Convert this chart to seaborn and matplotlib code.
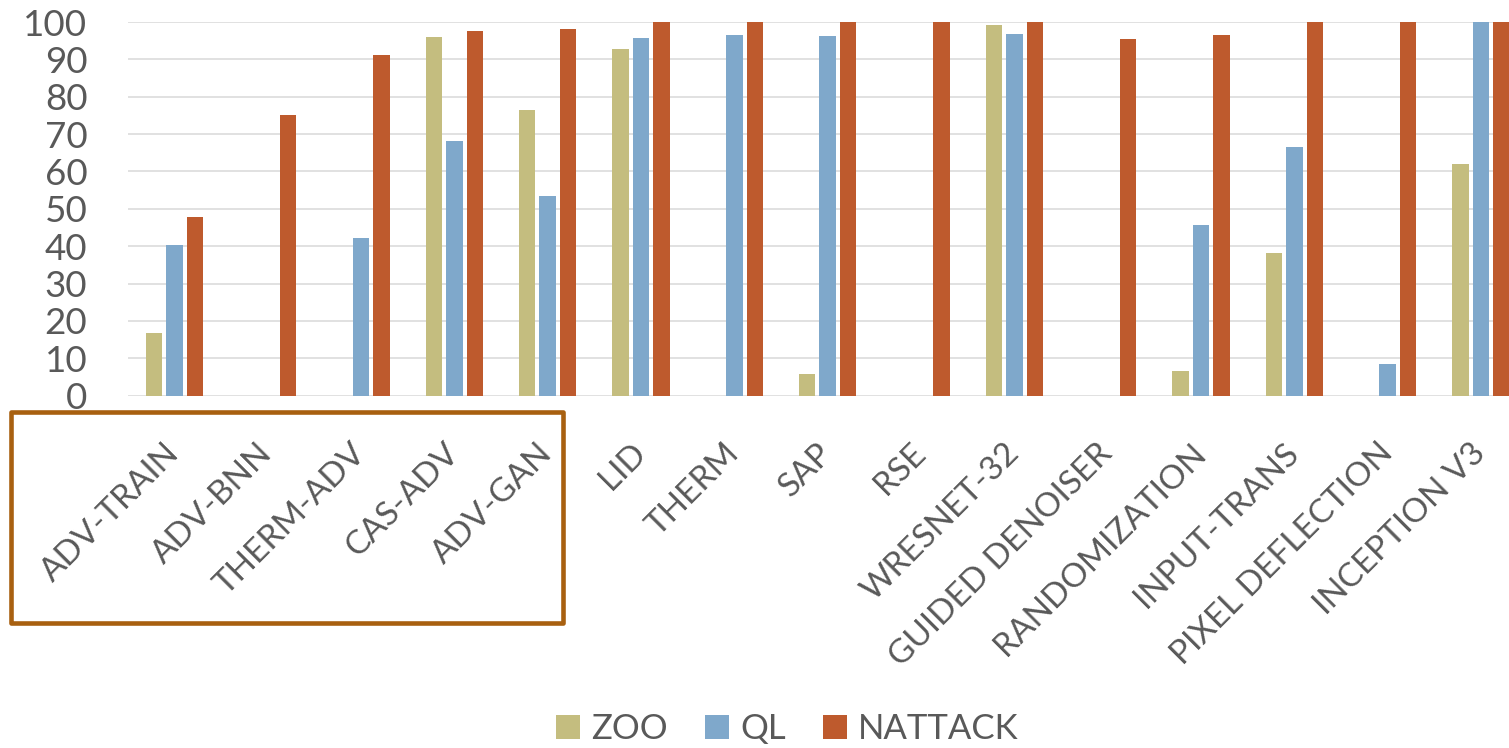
import matplotlib
matplotlib.use("Agg")
import matplotlib.pyplot as plt
from matplotlib.patches import Rectangle
import pandas as pd
import seaborn as sns

# Success rate (%) of each black-box attack against each defended model
defenses = [
    "ADV-TRAIN", "ADV-BNN", "THERM-ADV", "CAS-ADV", "ADV-GAN", "LID", "THERM",
    "SAP", "RSE", "WRESNET-32", "GUIDED DENOISER", "RANDOMIZATION",
    "INPUT-TRANS", "PIXEL DEFLECTION", "INCEPTION V3",
]
methods = ["ZOO", "QL", "NATTACK"]
zoo = [16.8, 0, 0, 96.0, 76.4, 92.9, 0, 5.8, 0, 99.2, 0, 6.6, 38.1, 0, 62.0]
ql = [40.2, 0, 42.1, 68.2, 53.5, 95.6, 96.5, 96.2, 0, 96.8, 0, 45.7, 66.5, 8.4, 100]
nattack = [47.8, 75.2, 91.2, 97.7, 98.2, 100, 100, 100, 100, 100, 95.5, 96.5, 100, 100, 100]
yticks = list(range(0, 101, 10))

colors = ["#C4BD7F", "#7FA8CB", "#BE5A2D"]
text_color = "#595959"

df = pd.DataFrame({
    "defense": defenses * 3,
    "method": [m for m in methods for _ in defenses],
    "rate": zoo + ql + nattack,
})

sns.set_theme(style="white")
plt.rcParams["font.family"] = ["Lato", "DejaVu Sans"]

W, H = 1509, 748
fig = plt.figure(figsize=(W / 100, H / 100), dpi=100)
ax = fig.add_axes([127.7 / W, 1 - 395.7 / H, 1400 / W, (395.7 - 22) / H])

sns.barplot(
    data=df, x="defense", y="rate", hue="method", order=defenses,
    hue_order=methods, palette=colors, width=0.66, gap=0.2,
    linewidth=0, saturation=1, ax=ax,
)

ax.set_xlim(-0.5, len(defenses) - 0.5)
ax.set_ylim(0, 100)
ax.set_yticks(yticks)
ax.set_yticklabels([str(v) for v in yticks], fontsize=26.5, color=text_color)
ax.set_xticks(range(len(defenses)))
ax.set_xticklabels(defenses, rotation=45, ha="right", va="center",
                   rotation_mode="anchor", fontsize=24, color=text_color)
ax.tick_params(axis="y", length=0, pad=29)
ax.tick_params(axis="x", length=0, pad=38)
ax.set_xlabel("")
ax.set_ylabel("")
for s in ax.spines.values():
    s.set_visible(False)
ax.yaxis.grid(True, color="#D9D9D9", linewidth=1.1)
ax.set_axisbelow(True)

sns.move_legend(
    ax, "center", bbox_to_anchor=(787.5 / W, 1 - 729 / H),
    bbox_transform=fig.transFigure, ncol=3, frameon=False, title=None,
    fontsize=25, handlelength=0.69, handleheight=0.68, handletextpad=0.32,
    columnspacing=1.07, borderpad=0,
)
for t in ax.get_legend().get_texts():
    t.set_color(text_color)

# Frame around the adversarially-trained group of labels
box = Rectangle((10.5 / W, 1 - 623 / H), (563 - 10.5) / W, (623 - 412) / H,
                transform=fig.transFigure, fill=False, edgecolor="#A86010",
                linewidth=3.3, joinstyle="round")
fig.add_artist(box)

fig.savefig("out.png", dpi=100, facecolor="white")
